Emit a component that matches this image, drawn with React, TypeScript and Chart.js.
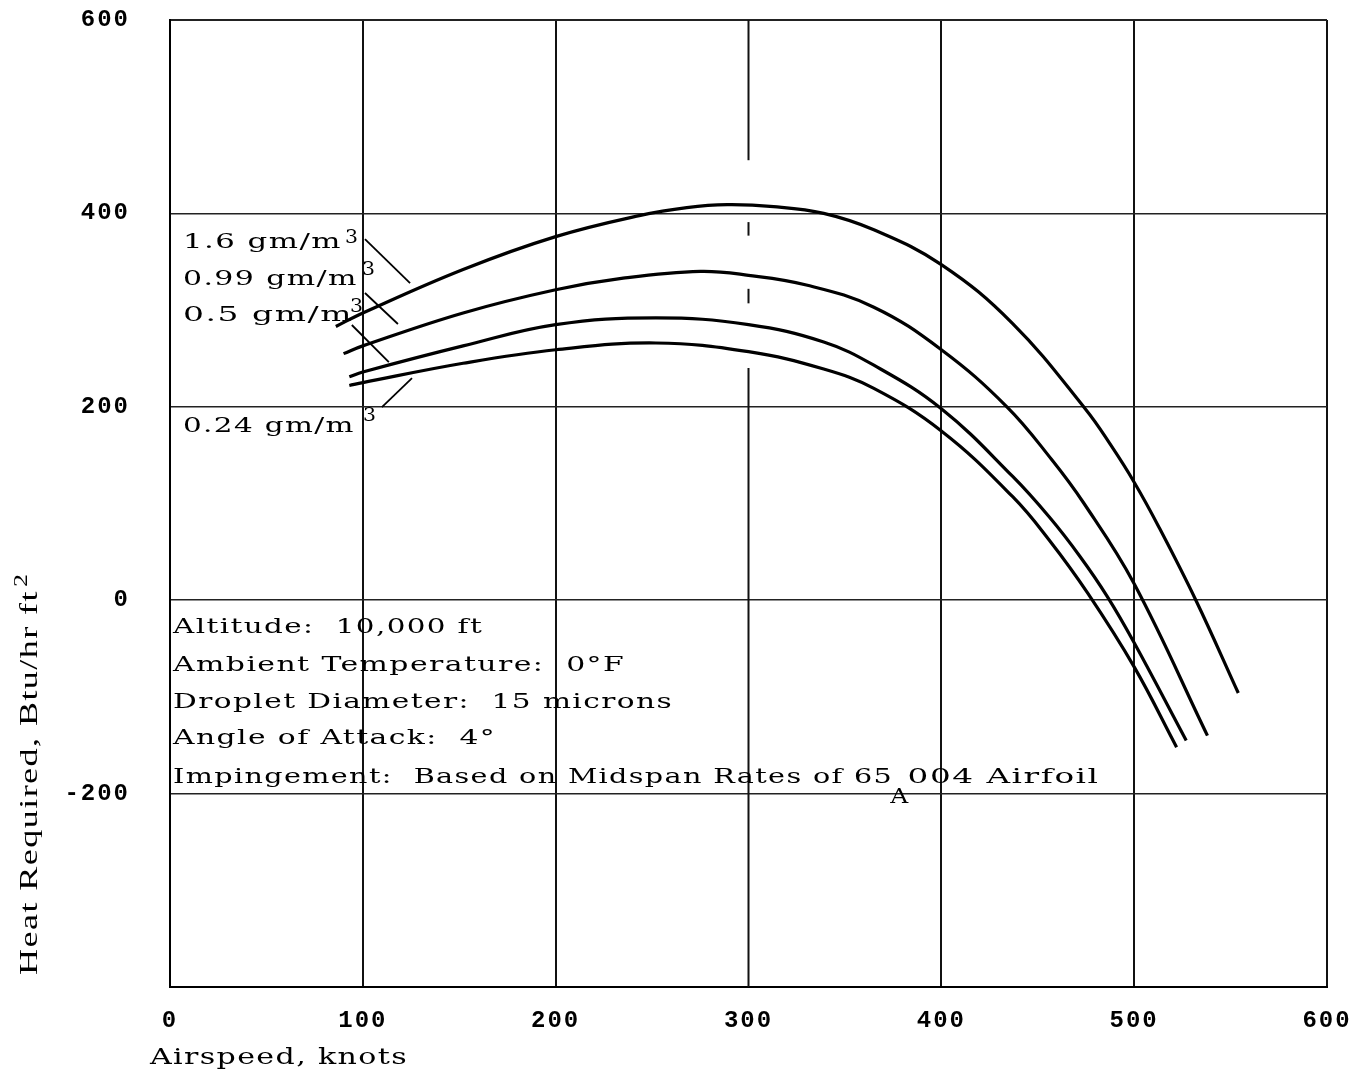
import React, { useEffect, useRef } from "react";
import { Chart, registerables } from "chart.js";

Chart.register(...registerables);

// ---------- data ----------
const X_TICK_VALUES = [0, 100, 200, 300, 400, 500, 600];
const Y_TICK_VALUES = [600, 400, 200, 0, -200];
const Y_GRID_VALUES = [600, 400, 200, 0, -200, -400];

const SERIES_NAMES = ["1.6 gm/m", "0.99 gm/m", "0.5 gm/m", "0.24 gm/m"];

const AIRSPEED_16 = [86, 100, 152, 200, 244, 268, 289, 313, 339, 365, 400, 437, 475, 488, 500, 513, 532, 554];
const HEAT_16 = [283, 297, 342, 376, 398, 406, 409, 407, 400, 383, 347, 286, 197, 160, 122, 75, 0, -96];

const AIRSPEED_099 = [90, 100, 152, 200, 235, 275, 300, 330, 365, 400, 434, 457, 474, 500, 538];
const HEAT_099 = [255, 263, 297, 321, 333, 340, 336, 326, 303, 259, 200, 146, 100, 17, -140];

const AIRSPEED_05 = [93, 100, 152, 200, 252, 300, 339, 365, 400, 437, 456, 472, 486, 500, 527];
const HEAT_05 = [231, 236, 263, 285, 292, 285, 267, 243, 198, 128, 86, 45, 4, -44, -145];

const AIRSPEED_024 = [93, 100, 152, 200, 252, 300, 339, 365, 400, 437, 456, 476, 500, 522];
const HEAT_024 = [222, 225, 245, 259, 266, 257, 239, 219, 175, 107, 62, 7, -69, -152];

// leader lines from labels to curves: [x knots, y value]
const LEADER_16 = [[101.1, 373.5], [124.5, 328.0]];
const LEADER_099 = [[101.1, 317.7], [118.2, 285.6]];
const LEADER_05 = [[94.3, 284.6], [113.5, 246.3]];
const LEADER_024 = [[109.9, 199.6], [125.5, 229.6]];

// the 300-knot grid line is interrupted: drawn only over these value ranges
const VLINE_300_SEGMENTS = [[600, 455], [391, 377], [322, 307], [240, -400]];

const CONDITIONS = [
  "Altitude:  10,000 ft",
  "Ambient Temperature:  0\u00B0F",
  "Droplet Diameter:  15 microns",
  "Angle of Attack:  4\u00B0",
  "Impingement:  Based on Midspan Rates of 65",
];
const CONDITIONS_SUB = "A";
const CONDITIONS_TAIL = "004 Airfoil";

const Y_TITLE = "Heat Required, Btu/hr ft";
const X_TITLE = "Airspeed, knots";

// ---------- helpers ----------
const pts = (xs: number[], ys: number[]) => xs.map((x, i) => ({ x, y: ys[i] }));
const pairPts = (p: number[][]) => p.map(([x, y]) => ({ x, y }));

function drawFit(ctx: CanvasRenderingContext2D, text: string, x: number, y: number, width: number, font: string, spacing = 0) {
  ctx.save();
  ctx.font = font;
  (ctx as any).letterSpacing = spacing + "px";
  ctx.textAlign = "left";
  ctx.textBaseline = "alphabetic";
  const w = ctx.measureText(text).width;
  ctx.translate(x, y);
  ctx.scale(width / w, 1);
  ctx.fillStyle = "#000";
  ctx.fillText(text, 0, 0);
  ctx.restore();
}

const SERIF = "'DejaVu Serif', serif";

const textPlugin = {
  id: "textPlugin",
  beforeDraw(chart: any) {
    (chart.ctx as any).letterSpacing = "2px";
  },
  beforeDatasetsDraw(chart: any) {
    const { ctx, scales } = chart;
    const x = scales.x.getPixelForValue(300);
    ctx.save();
    ctx.strokeStyle = "#111";
    ctx.lineWidth = 2;
    VLINE_300_SEGMENTS.forEach(([a, b]) => {
      ctx.beginPath();
      ctx.moveTo(x, scales.y.getPixelForValue(a));
      ctx.lineTo(x, scales.y.getPixelForValue(b));
      ctx.stroke();
    });
    ctx.restore();
  },
  afterDraw(chart: any) {
    const { ctx, scales, chartArea } = chart;
    (ctx as any).letterSpacing = "0px";
    const px = (v: number) => scales.x.getPixelForValue(v);
    const py = (v: number) => scales.y.getPixelForValue(v);
    const f = `21px ${SERIF}`;
    const fs = `18px ${SERIF}`;

    // curve labels
    const labelRows = [
      { y: 364.2, w: 159, sx: 90.8, sy: 369.4 },
      { y: 326, w: 175, sx: 99.6, sy: 336.3 },
      { y: 288.7, w: 170, sx: 93.3, sy: 298 },
      { y: 174, w: 172, sx: 100.1, sy: 185.3 },
    ];
    labelRows.forEach((r, i) => {
      drawFit(ctx, SERIES_NAMES[i], px(6.7), py(r.y), r.w, f, 1);
      drawFit(ctx, "3", px(r.sx), py(r.sy), 13, fs, 0);
    });

    // conditions block
    const condRows = [
      { y: -34, w: 310 },
      { y: -73, w: 452 },
      { y: -111.5, w: 500 },
      { y: -149, w: 323 },
      { y: -189, w: 720 },
    ];
    condRows.forEach((r, i) => drawFit(ctx, CONDITIONS[i], px(1.6), py(r.y), r.w, f, 1));
    drawFit(ctx, CONDITIONS_SUB, px(373.5), py(-210), 18, f, 0);
    drawFit(ctx, CONDITIONS_TAIL, px(382.5), py(-189), 192, f, 1);

    // axis titles
    ctx.save();
    ctx.translate(chartArea.left - 133, chartArea.bottom - 12);
    ctx.rotate(-Math.PI / 2);
    drawFit(ctx, Y_TITLE, 0, 0, 385, `26px 'Liberation Serif', serif`, 1);
    drawFit(ctx, "2", 388, -10, 13, `19px 'Liberation Serif', serif`, 0);
    ctx.restore();

    drawFit(ctx, X_TITLE, chartArea.left - 20, chartArea.bottom + 77, 258, `22px ${SERIF}`, 1);
  },
};

export default function App() {
  const ref = useRef<HTMLCanvasElement | null>(null);

  useEffect(() => {
    if (!ref.current) return;
    const curve = (xs: number[], ys: number[], label: string) => ({
      label,
      data: pts(xs, ys),
      showLine: true,
      borderColor: "#000",
      backgroundColor: "#000",
      borderWidth: 3.2,
      pointRadius: 0,
      tension: 0.4,
      fill: false,
    });
    const leader = (p: number[][]) => ({
      label: "leader",
      data: pairPts(p),
      showLine: true,
      borderColor: "#000",
      borderWidth: 1.8,
      pointRadius: 0,
      fill: false,
    });
    const tickFont = { family: "'Liberation Mono', monospace", size: 24, weight: "bold" as const };
    const chart = new Chart(ref.current, {
      type: "scatter",
      data: {
        datasets: [
          curve(AIRSPEED_16, HEAT_16, SERIES_NAMES[0]),
          curve(AIRSPEED_099, HEAT_099, SERIES_NAMES[1]),
          curve(AIRSPEED_05, HEAT_05, SERIES_NAMES[2]),
          curve(AIRSPEED_024, HEAT_024, SERIES_NAMES[3]),
          leader(LEADER_16),
          leader(LEADER_099),
          leader(LEADER_05),
          leader(LEADER_024),
        ] as any,
      },
      options: {
        animation: false,
        responsive: true,
        maintainAspectRatio: false,
        layout: { padding: { top: 20, right: 42, bottom: 0, left: 0 } },
        plugins: { legend: { display: false }, tooltip: { enabled: false }, title: { display: false } },
        scales: {
          x: {
            type: "linear",
            min: 0,
            max: 600,
            afterBuildTicks: (s: any) => {
              s.ticks = X_TICK_VALUES.map((v) => ({ value: v }));
            },
            afterFit: (s: any) => {
              s.height = 87;
              s.paddingLeft = 0;
              s.paddingRight = 0;
            },
            ticks: {
              color: "#000",
              padding: 20,
              font: tickFont,
              callback: (v: any) => String(v),
            },
            grid: {
              drawTicks: false,
              color: (c: any) => (c.tick && c.tick.value === 300 ? "rgba(0,0,0,0)" : "#111"),
              lineWidth: 2,
            },
            border: { display: true, color: "#000", width: 2 },
          },
          y: {
            type: "linear",
            min: -400,
            max: 600,
            afterBuildTicks: (s: any) => {
              s.ticks = Y_GRID_VALUES.map((v) => ({ value: v }));
            },
            afterFit: (s: any) => {
              s.width = 170;
              s.paddingTop = 0;
              s.paddingBottom = 0;
            },
            ticks: {
              color: "#000",
              padding: 40,
              font: tickFont,
              callback: (v: any) => (Y_TICK_VALUES.includes(Number(v)) ? String(v) : ""),
            },
            grid: {
              drawTicks: false,
              color: "#222",
              lineWidth: (c: any) => (c.tick && c.tick.value === 600 ? 2 : 1.5),
            },
            border: { display: true, color: "#000", width: 2 },
          },
        },
      },
      plugins: [textPlugin],
    });
    return () => chart.destroy();
  }, []);

  return (
    <div style={{ position: "fixed", left: 0, top: 0, width: 1369, height: 1074, background: "#fff" }}>
      <canvas ref={ref} />
    </div>
  );
}
